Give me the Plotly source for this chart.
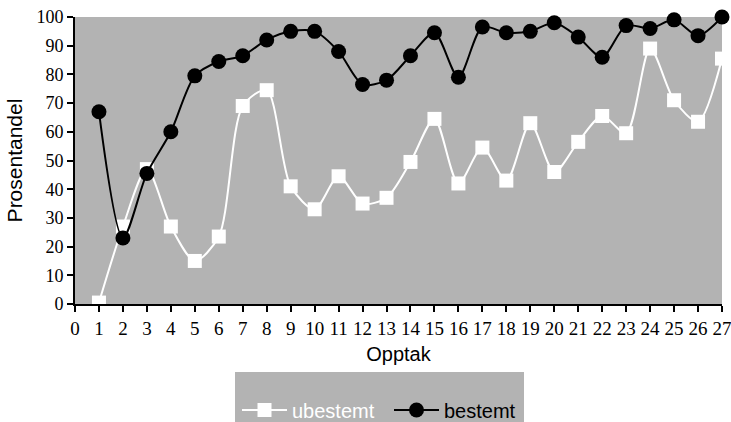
import plotly.graph_objects as go

opptak = list(range(1, 28))
ubestemt = [0.5, 27, 47, 27, 15, 23.5, 69, 74.5, 41, 33, 44.5, 35, 37, 49.5, 64.5,
            42, 54.5, 43, 63, 46, 56.5, 65.5, 59.5, 89, 71, 63.5, 85.5]
bestemt = [67, 23, 45.5, 60, 79.5, 84.5, 86.5, 92, 95, 95, 88, 76.5, 78, 86.5, 94.5,
           79, 96.5, 94.5, 95, 98, 93, 86, 97, 96, 99, 93.5, 100]
x_ticks = list(range(0, 28))
y_ticks = list(range(0, 101, 10))

W, H = 731, 422
px0, px1 = 75, 722   # plot left/right
py0, py1 = 17, 304   # plot top/bottom
L, R, T, B = px0, W - px1, py0, H - py1
pw, ph = px1 - px0, py1 - py0

def ux(x):
    return (x - px0) / pw

def uy(y):
    return (py1 - y) / ph

fig = go.Figure()
fig.add_trace(go.Scatter(
    x=opptak, y=ubestemt, mode="lines+markers",
    name="<span style='color:white'>ubestemt</span>",
    line=dict(color="white", width=2, shape="spline", smoothing=0.8),
    marker=dict(symbol="square", size=14, color="white"),
    cliponaxis=False))
fig.add_trace(go.Scatter(
    x=opptak, y=bestemt, mode="lines+markers",
    name="bestemt",
    line=dict(color="black", width=2, shape="spline", smoothing=0.8),
    marker=dict(symbol="circle", size=15, color="black"),
    cliponaxis=False))

fig.update_layout(
    width=W, height=H,
    margin=dict(l=L, r=R, t=T, b=B, autoexpand=False),
    paper_bgcolor="white",
    plot_bgcolor="#b3b3b3",
    showlegend=True,
    legend=dict(orientation="h", xref="container", yref="container",
                x=237 / W, xanchor="left", y=1 - 410 / H, yanchor="middle",
                itemwidth=45, entrywidth=92,
                bgcolor="rgba(0,0,0,0)",
                font=dict(family="Liberation Sans", size=20, color="black")),
    shapes=[dict(type="rect", xref="paper", yref="paper",
                 x0=ux(235), x1=ux(524), y0=uy(430), y1=uy(372),
                 fillcolor="#b3b3b3", line=dict(width=0), layer="below")],
    xaxis=dict(range=[0, 27], tickvals=x_ticks, ticktext=[str(v) for v in x_ticks],
               ticks="outside", ticklen=6, tickcolor="black", tickwidth=1.5,
               showline=True, linecolor="black", linewidth=2, showgrid=False, zeroline=False,
               automargin=False, ticklabeloverflow="allow",
               tickfont=dict(family="Liberation Serif", size=19, color="black"),
               title=dict(text="Opptak", standoff=9,
                          font=dict(family="Liberation Sans", size=20, color="black"))),
    yaxis=dict(range=[0, 100], tickvals=y_ticks,
               ticks="outside", ticklen=6, tickcolor="black", tickwidth=1.5,
               showline=True, linecolor="black", linewidth=2, showgrid=False, zeroline=False,
               automargin=False, ticklabeloverflow="allow",
               tickfont=dict(family="Liberation Serif", size=18, color="black"),
               title=dict(text="Prosentandel", standoff=8,
                          font=dict(family="Liberation Sans", size=21, color="black"))),
)

fig.write_html("out.html", config={"displayModeBar": False},
               post_script="document.body.style.margin='0px';")
